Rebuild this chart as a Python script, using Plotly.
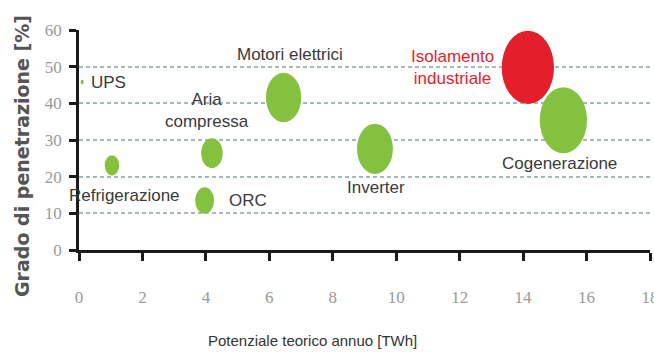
import plotly.graph_objects as go

# ---- data ----
names = ["UPS", "Refrigerazione", "Aria compressa", "ORC", "Motori elettrici",
         "Inverter", "Isolamento industriale", "Cogenerazione"]
labels = ["UPS", "Refrigerazione", "Aria<br>compressa", "ORC", "Motori elettrici",
          "Inverter", "Isolamento<br>industriale", "Cogenerazione"]
potenziale = [0.1, 1.04, 4.19, 3.96, 6.45, 9.33, 14.15, 15.27]   # TWh
penetrazione = [45.8, 23.1, 26.4, 13.5, 41.6, 27.6, 49.8, 35.4]  # %
peso = [0.5, 2.3, 3.4, 3.0, 5.6, 5.7, 8.3, 7.5]                  # relative bubble size
x_ticks = [0, 2, 4, 6, 8, 10, 12, 14, 16, 18]
y_ticks = [0, 10, 20, 30, 40, 50, 60]

# ---- layout constants ----
W, H = 654, 352
ML, MR, MT, MB = 79, 4, 30, 102
XR, YR = [0, 18], [0, 60]
px_x = (W - ML - MR) / (XR[1] - XR[0])
px_y = (H - MT - MB) / (YR[1] - YR[0])
PX_PER_PESO = 6.3
ASPECT = 1.4

GREEN = "#84c13f"
RED = "#e41e2b"
colors = [RED if n == "Isolamento industriale" else GREEN for n in names]

label_style = {
    "UPS": dict(xanchor="left", yanchor="middle", dx=7, dy=0),
    "Refrigerazione": dict(xanchor="center", yanchor="middle", dx=13, dy=-30),
    "Aria compressa": dict(xanchor="center", yanchor="middle", dx=-5, dy=43),
    "ORC": dict(xanchor="left", yanchor="middle", dx=22, dy=0),
    "Motori elettrici": dict(xanchor="center", yanchor="middle", dx=6, dy=43),
    "Inverter": dict(xanchor="center", yanchor="middle", dx=1, dy=-39),
    "Isolamento industriale": dict(xanchor="right", yanchor="middle", dx=-32, dy=0),
    "Cogenerazione": dict(xanchor="center", yanchor="middle", dx=-4, dy=-43),
}

fig = go.Figure()

# hover carrier trace at bubble centres
fig.add_trace(go.Scatter(
    x=potenziale, y=penetrazione, mode="markers", text=names,
    marker=dict(size=[p * PX_PER_PESO for p in peso], color=colors, opacity=0),
    hovertemplate="%{text}<br>%{x} TWh<br>%{y} %<extra></extra>", showlegend=False,
))

# elliptical bubbles (data coordinates)
shapes = []
order = sorted(range(len(names)), key=lambda i: 0 if colors[i] == RED else 1)
for i in order:
    wpx = peso[i] * PX_PER_PESO
    hpx = wpx * ASPECT
    rx = wpx / 2 / px_x
    ry = hpx / 2 / px_y
    shapes.append(dict(type="circle", xref="x", yref="y",
                       x0=potenziale[i] - rx, x1=potenziale[i] + rx,
                       y0=penetrazione[i] - ry, y1=penetrazione[i] + ry,
                       fillcolor=colors[i], line=dict(width=0), layer="above"))

annotations = []
for i, n in enumerate(names):
    st = label_style[n]
    annotations.append(dict(
        x=potenziale[i], y=penetrazione[i], xref="x", yref="y", text=labels[i],
        showarrow=False, xanchor=st["xanchor"], yanchor=st["yanchor"],
        xshift=st["dx"], yshift=st["dy"], align="center",
        font=dict(family="Liberation Sans", size=17,
                  color=RED if colors[i] == RED else "#3a3a3a"),
    ))

annotations.append(dict(
    text="Grado di penetrazione [%]", xref="paper", yref="paper",
    x=-(ML - 22) / (W - ML - MR), y=(H - MB - 156) / (H - MT - MB),
    showarrow=False, textangle=-90, xanchor="center", yanchor="middle",
    font=dict(family="DejaVu Sans", size=19, color="#555555", weight="bold"),
))
annotations.append(dict(
    text="Potenziale teorico annuo [TWh]", xref="paper", yref="paper",
    x=(312 - ML) / (W - ML - MR), y=-(340 - (H - MB)) / (H - MT - MB),
    showarrow=False, xanchor="center", yanchor="middle",
    font=dict(family="Liberation Sans", size=15, color="#333333"),
))

fig.update_layout(
    width=W, height=H, margin=dict(l=ML, r=MR, t=MT, b=MB, autoexpand=False),
    paper_bgcolor="white", plot_bgcolor="white",
    shapes=shapes, annotations=annotations, showlegend=False,
    xaxis=dict(range=XR, tickvals=x_ticks, showgrid=False, zeroline=False,
               automargin=False,
               showline=True, linecolor="#1a1a1a", linewidth=2.5,
               ticks="outside", ticklen=8, tickwidth=2.5, tickcolor="#1a1a1a",
               ticklabelstandoff=22, ticklabeloverflow="allow",
               tickfont=dict(family="Liberation Sans Narrow", size=17, color="#9a9a9a")),
    yaxis=dict(range=YR, tickvals=y_ticks, showgrid=True, gridcolor="#a6b8b8",
               automargin=False,
               gridwidth=1.5, griddash="4px,3px", zeroline=False,
               showline=True, linecolor="#1a1a1a", linewidth=2.5,
               ticks="outside", ticklen=7, tickwidth=2.5, tickcolor="#1a1a1a",
               ticklabelstandoff=4,
               tickfont=dict(family="Liberation Sans Narrow", size=17, color="#9a9a9a")),
)

fig.write_html("out.html")
